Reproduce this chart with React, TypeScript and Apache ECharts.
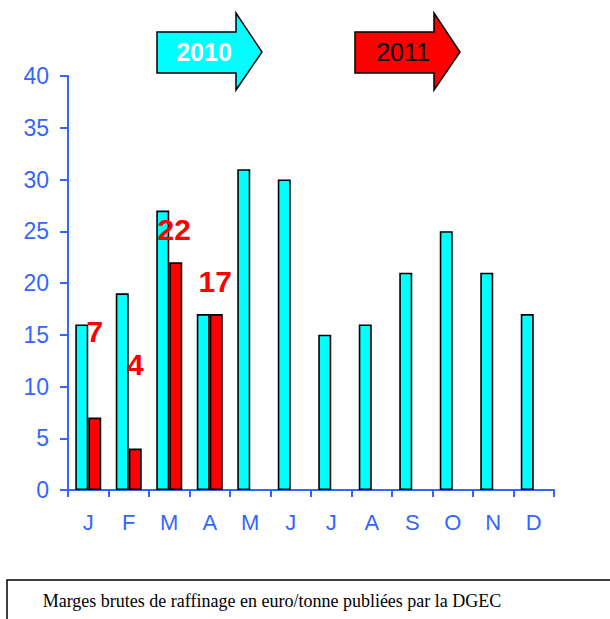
import React, { useEffect, useRef } from "react";
import * as echarts from "echarts";

const months = ["J", "F", "M", "A", "M", "J", "J", "A", "S", "O", "N", "D"];
const values2010 = [16, 19, 27, 17, 31, 30, 15, 16, 21, 25, 21, 17];
const values2011: (number | null)[] = [7, 4, 22, 17, null, null, null, null, null, null, null, null];
const yTicks = [0, 5, 10, 15, 20, 25, 30, 35, 40];
const caption = "Marges brutes de raffinage en euro/tonne publiées par la DGEC";
const yearLabels = ["2010", "2011"];

// label offsets (style, not data)
const labelOffsets: [number, number][] = [
  [0, -71],
  [0, -69],
  [-1.5, -18],
  [-1, -18],
];

const AXIS_BLUE = "#3366FF";

function arrowPoints(x0: number): number[][] {
  return [
    [x0, 32],
    [x0 + 79, 32],
    [x0 + 79, 13],
    [x0 + 105, 52],
    [x0 + 79, 90],
    [x0 + 79, 73],
    [x0, 73],
  ];
}

export default function App() {
  const ref = useRef<HTMLDivElement>(null);
  useEffect(() => {
    if (!ref.current) return;
    const chart = echarts.init(ref.current, null, { renderer: "svg" });
    const redData = values2011.map((v, i) =>
      v == null
        ? null
        : {
            value: v,
            label: { offset: labelOffsets[i] || [0, 0] },
          }
    );
    chart.setOption({
      animation: false,
      backgroundColor: "#ffffff",
      grid: { left: 68, right: 56, top: 76, bottom: 129, containLabel: false },
      xAxis: {
        type: "category",
        data: months,
        axisLine: { lineStyle: { color: AXIS_BLUE, width: 2 } },
        axisTick: { show: true, length: 7, lineStyle: { color: AXIS_BLUE, width: 2 } },
        axisLabel: {
          color: AXIS_BLUE,
          fontSize: 22,
          fontFamily: "Liberation Sans",
          margin: 21,
        },
      },
      yAxis: {
        type: "value",
        min: 0,
        max: 40,
        interval: 5,
        axisLine: { show: true, lineStyle: { color: AXIS_BLUE, width: 2 } },
        axisTick: { show: true, length: 8, lineStyle: { color: AXIS_BLUE, width: 2 } },
        splitLine: { show: false },
        axisLabel: {
          color: AXIS_BLUE,
          fontSize: 23,
          fontFamily: "Liberation Sans",
          margin: 19,
          formatter: (v: number) => (yTicks.includes(v) ? String(v) : ""),
        },
      },
      series: [
        {
          name: yearLabels[0],
          type: "bar",
          data: values2010,
          barWidth: 13,
          barGap: "0%",
          itemStyle: { color: "#00FFFF", borderColor: "#000000", borderWidth: 1.6 },
        },
        {
          name: yearLabels[1],
          type: "bar",
          data: redData,
          barWidth: 13,
          barGap: "0%",
          itemStyle: { color: "#FF0000", borderColor: "#000000", borderWidth: 1.6 },
          label: {
            show: true,
            position: "top",
            distance: 0,
            color: "#FF0000",
            fontWeight: "bold",
            fontSize: 30,
            fontFamily: "Liberation Sans",
          },
        },
      ],
      graphic: [
        {
          type: "polygon",
          shape: { points: arrowPoints(157) },
          style: { fill: "#00FFFF", stroke: "#000000", lineWidth: 1.5 },
        },
        {
          type: "text",
          x: 204,
          y: 52,
          style: {
            text: yearLabels[0],
            fill: "#ffffff",
            font: "bold 25px 'Liberation Sans'",
            align: "center",
            verticalAlign: "middle",
          },
        },
        {
          type: "polygon",
          shape: { points: arrowPoints(355) },
          style: { fill: "#FF0000", stroke: "#000000", lineWidth: 1.5 },
        },
        {
          type: "text",
          x: 403,
          y: 52,
          style: {
            text: yearLabels[1],
            fill: "#000000",
            font: "25px 'Liberation Sans'",
            align: "center",
            verticalAlign: "middle",
          },
        },
        {
          type: "rect",
          shape: { x: 7, y: 580, width: 640, height: 80 },
          style: { fill: "#ffffff", stroke: "#000000", lineWidth: 1.5 },
        },
        {
          type: "text",
          x: 272,
          y: 601,
          style: {
            text: caption,
            fill: "#000000",
            font: "18px 'Liberation Serif'",
            align: "center",
            verticalAlign: "middle",
          },
        },
      ],
    });
    return () => chart.dispose();
  }, []);
  return (
    <div
      ref={ref}
      style={{ position: "fixed", left: 0, top: 0, width: 610, height: 619 }}
    />
  );
}
